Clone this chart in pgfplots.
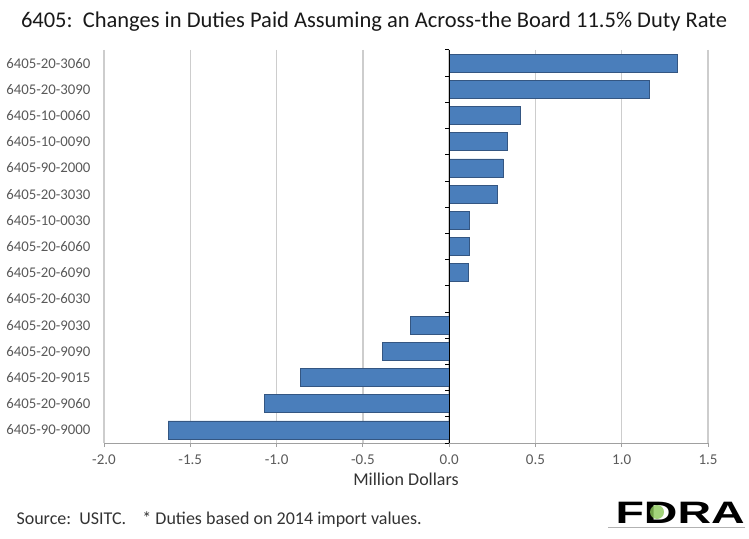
\documentclass[border=0pt]{standalone}
\usepackage{pgfplots}
\pgfplotsset{compat=1.18}
\usepackage{pgfplotstable}
\usepackage{fontspec}
\setmainfont{Carlito}
\newfontfamily\logofont{Liberation Sans}
\definecolor{barblue}{RGB}{74,126,187}
\definecolor{baredge}{RGB}{52,86,130}
\definecolor{gridgray}{RGB}{205,205,205}
\definecolor{axgray}{RGB}{160,160,160}
\definecolor{labgray}{RGB}{89,89,89}
\definecolor{fdragreen}{RGB}{140,200,90}
\pgfplotstableread{
idx val
0 1.323
1 1.158
2 0.415
3 0.337
4 0.313
5 0.279
6 0.115
7 0.115
8 0.111
9 0.004
10 -0.225
11 -0.388
12 -0.860
13 -1.071
14 -1.629
}\datatable
\begin{document}
\begin{tikzpicture}[x=1pt,y=1pt]
\path (0,0) rectangle (749,538);
\begin{axis}[at={(104pt,95pt)}, anchor=south west, scale only axis,
  width=604pt, height=393pt,
  xmin=-2, xmax=1.5, ymin=-0.5, ymax=14.5, y dir=reverse,
  xbar, bar width=18pt,
  xtick={-2,-1.5,-1,-0.5,0,0.5,1,1.5},
  ytick={0,...,14},
  yticklabels={6405-20-3060,6405-20-3090,6405-10-0060,6405-10-0090,6405-90-2000,6405-20-3030,6405-10-0030,6405-20-6060,6405-20-6090,6405-20-6030,6405-20-9030,6405-20-9090,6405-20-9015,6405-20-9060,6405-90-9000},
  axis x line*=bottom, axis y line*=left,
  y axis line style={draw=none},
  x axis line style={draw=axgray, line width=1pt},
  ytick style={draw=none},
  xtick style={draw=axgray, line width=0.8pt},
  tick align=outside, major tick length=4pt,
  xmajorgrids, grid style={draw=gridgray, line width=1.3pt},
  xticklabel style={font=\fontsize{15}{17}\selectfont, text=labgray, yshift=-4pt},
  yticklabel style={font=\fontsize{14.8}{17}\selectfont, text=labgray, xshift=-6pt},
  /pgf/number format/.cd, fixed, fixed zerofill, precision=1, assume math mode=true,
  /pgfplots/.cd,
  xlabel={Million Dollars},
  xlabel style={font=\fontsize{18}{20}\selectfont, text=black!80, yshift=-2pt},
]
\addplot[fill=barblue, draw=baredge, line width=0.8pt] table[x=val, y=idx] {\datatable};
\draw[black, line width=1.2pt] (axis cs:0,-0.5) -- (axis cs:0,14.5);
\pgfplotsinvokeforeach{-0.5,0.5,1.5,2.5,3.5,4.5,5.5,6.5,7.5,8.5,9.5,10.5,11.5,12.5,13.5,14.5}{
  \draw[black, line width=1pt] (axis cs:0,#1) -- (axis cs:-0.024,#1);
}
\end{axis}
\node[font=\fontsize{22.5}{25}\selectfont, text=black!90] at (374,516) {6405:\ \ Changes in Duties Paid Assuming an Across-the Board 11.5\% Duty Rate};
\node[font=\fontsize{18}{20}\selectfont, text=black!80, anchor=west] at (13,18) {Source:\ \ USITC.\ \ \ \ * Duties based on 2014 import values.};
\node[anchor=east, inner sep=0pt, xscale=1.5] at (745,25) {\logofont\bfseries\fontsize{31}{33}\selectfont FDRA};
\fill[fdragreen, opacity=0.8] (657,26) circle (7);
\draw[gray!60, line width=0.5pt] (608,11) -- (745,11);
\end{tikzpicture}
\end{document}
